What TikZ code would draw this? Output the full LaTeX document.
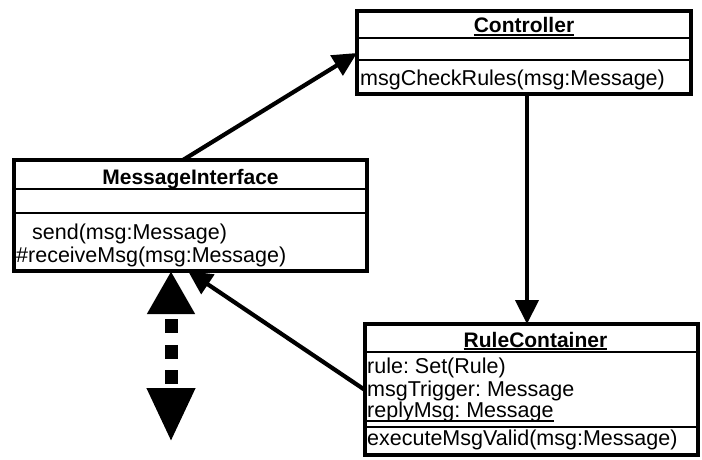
\documentclass[tikz,border=0pt]{standalone}
\usepackage{fontspec}
\setmainfont{Liberation Sans}
\usetikzlibrary{arrows.meta,calc}
\frenchspacing
\newcommand\myul[2][4.5pt]{\setbox0\hbox{#2}\rlap{\rule[-#1]{\wd0}{1.6pt}}\box0}
\tikzset{
  umlbox/.style={draw, fill=white, line width=3.5pt, inner sep=0pt, outer sep=0pt, anchor=north west},
  sepline/.style={line width=2pt},
  txt/.style={font=\fontsize{21.5pt}{24pt}\selectfont, inner sep=0pt, anchor=base west},
  ttl/.style={font=\fontsize{21pt}{24pt}\selectfont\bfseries, inner sep=0pt, anchor=base},
  conn/.style={line width=4.2pt, -{Triangle[length=24pt,width=23pt]}},
  dep/.style={line width=13pt, dash pattern=on 14pt off 11.5pt, dash phase=17.5pt,
    {Triangle[length=43pt,width=45pt]}-{Triangle[length=54pt,width=45pt]}}
}
\begin{document}
\begin{tikzpicture}[x=1pt,y=-1pt]
\useasboundingbox[fill=white] (0,0) rectangle (702,460);
% boxes
\node[umlbox, minimum width=334pt, minimum height=83pt] (ctl) at (357,11) {};
\node[umlbox, minimum width=353pt, minimum height=111pt] (mi) at (14,160) {};
\node[umlbox, minimum width=333pt, minimum height=131pt] (rc) at (365,324) {};
% separators
\draw[sepline] ($(ctl.north west)+(0,27)$) -- ($(ctl.north east)+(0,27)$);
\draw[sepline] ($(ctl.north west)+(0,49)$) -- ($(ctl.north east)+(0,49)$);
\draw[sepline] ($(mi.north west)+(0,29)$) -- ($(mi.north east)+(0,29)$);
\draw[sepline] ($(mi.north west)+(0,53)$) -- ($(mi.north east)+(0,53)$);
\draw[sepline] ($(rc.north west)+(0,28)$) -- ($(rc.north east)+(0,28)$);
\draw[sepline] ($(rc.north west)+(0,103)$) -- ($(rc.north east)+(0,103)$);
% texts
\node[ttl] (ctlt) at ($(ctl.north)+(0,22)$) {\myul[3pt]{Controller}};
\node[txt] (ctlm) at ($(ctl.north west)+(3,74)$) {msgCheckRules(msg:Message)};
\node[ttl] (mit) at ($(mi.north)+(0,24)$) {MessageInterface};
\node[txt] (mim1) at ($(mi.north west)+(18,79)$) {send(msg:Message)};
\node[txt] (mim2) at ($(mi.north west)+(2,102)$) {\#receiveMsg(msg:Message)};
\node[ttl] (rct) at ($(rc.north)+(4,23)$) {\myul[3pt]{RuleContainer}};
\node[txt] (rca1) at ($(rc.north west)+(2,49)$) {rule: Set(Rule)};
\node[txt] (rca2) at ($(rc.north west)+(2,72)$) {msgTrigger: Message};
\node[txt] (rca3) at ($(rc.north west)+(2,93)$) {\myul{replyMsg: Message}};
\node[txt] (rcm) at ($(rc.north west)+(2,121)$) {executeMsgValid(msg:Message)};
% connectors
\draw[conn] ($(mi.north west)+(169,0)$) -- ($(ctl.north west)+(0,42)$);
\draw[conn] ($(ctl.south west)+(170,0)$) -- ($(rc.north west)+(162,0)$);
\draw[conn] ($(rc.north west)+(0,66)$) -- ($(mi.south west)+(174,0)$);
\coordinate (dend) at ($(mi.south west)+(157,171)$);
\draw[dep] ($(mi.south west)+(157,0)$) -- (dend);
\end{tikzpicture}
\end{document}
